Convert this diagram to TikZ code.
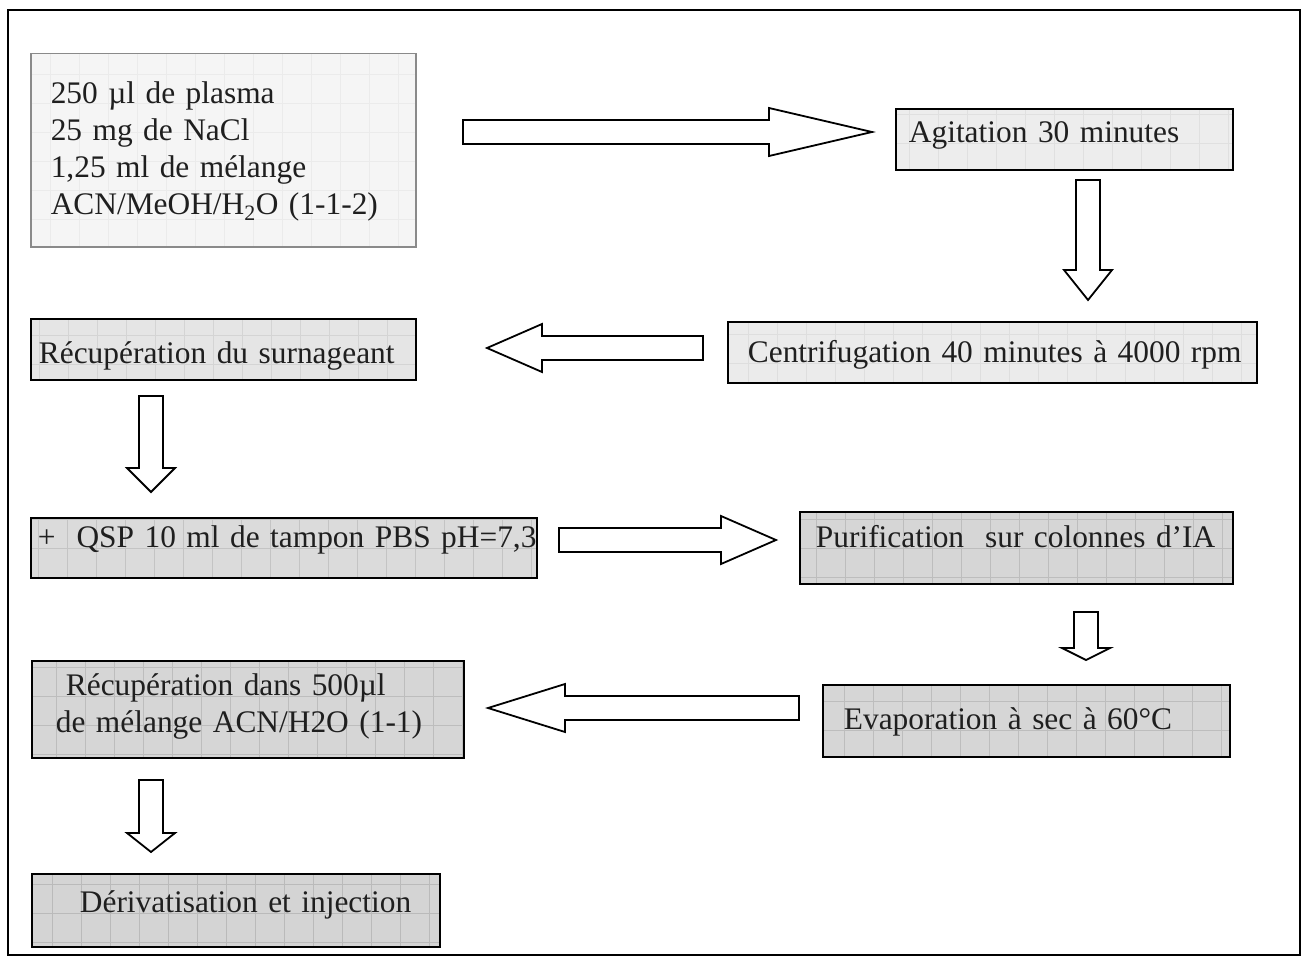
\documentclass[tikz,border=0pt]{standalone}
\usepackage{fontspec}
\setmainfont{Liberation Serif}
\usetikzlibrary{positioning,calc}
\definecolor{EdgeGray}{HTML}{8A8A8A}

% block arrow: tail, head base, tip (all named coordinates)
\newcommand{\hblock}[3]{\draw[blockarr] ($(#1)+(0,-12)$) -- ($(#2)+(0,-12)$) -- ($(#2)+(0,-24)$) -- (#3)
  -- ($(#2)+(0,24)$) -- ($(#2)+(0,12)$) -- ($(#1)+(0,12)$) -- cycle;}
\newcommand{\vblock}[3]{\draw[blockarr] ($(#1)+(-12,0)$) -- ($(#2)+(-12,0)$) -- ($(#2)+(-24,0)$) -- (#3)
  -- ($(#2)+(24,0)$) -- ($(#2)+(12,0)$) -- ($(#1)+(12,0)$) -- cycle;}

\begin{document}
\begin{tikzpicture}[x=1pt, y=-1pt,
  stage/.style    = {draw=black, line width=1.8pt, anchor=north west, align=left,
                     inner ysep=8pt, font=\fontsize{31.4}{37}\selectfont, text=black!88},
  oneline/.style  = {execute at begin node={\leavevmode\hbox\bgroup}, execute at end node={\egroup}},
  texture/.style 2 args = {fill=black!#1, path picture={\draw[black!#2, line width=0.7pt]
                     (path picture bounding box.south west) grid[step=29pt]
                     (path picture bounding box.north east);}},
  blockarr/.style = {draw=black, line width=1.8pt, fill=white, line join=miter}
]
  \useasboundingbox (0,0) rectangle (1305,963);
  \draw[line width=2.2pt] (8,10) rectangle (1300,955);

  % steps
  \node[stage, texture={4}{8}, draw=EdgeGray, line width=1.5pt, inner xsep=20pt,
        text width=345pt, text height=24pt, minimum height=193pt] (prep) at (30,53)
        {250 µl de plasma\\25 mg de NaCl\\1,25 ml de mélange\\ACN/MeOH/H\textsubscript{2}O (1-1-2)};
  \node[stage, oneline, texture={7}{12}, inner xsep=13pt, text width=311pt, text height=26pt, text depth=19pt]
        (agit) at (895,108) {Agitation 30 minutes};
  \node[stage, oneline, texture={8}{13}, inner xsep=20pt, text width=489pt, text height=33pt, text depth=12pt]
        (centri) at (727,321) {Centrifugation 40 minutes à 4000 rpm};
  \node[stage, oneline, texture={10}{17}, inner xsep=8pt, text width=369pt, text height=37pt, text depth=8pt]
        (surn) at (30,318) {Récupération du surnageant};
  \node[stage, oneline, texture={14}{23}, inner xsep=7pt, text width=492pt, text height=22pt, text depth=22pt]
        (qsp) at (30,517) {+\ \ QSP 10 ml de tampon PBS pH=7,3};
  \node[stage, oneline, texture={16}{26}, inner xsep=16pt, text width=401pt, text height=28pt, text depth=28pt]
        (puri) at (799,511) {Purification\ \ sur colonnes d’IA};
  \node[stage, oneline, texture={16}{26}, inner xsep=21pt, text width=365pt, text height=37pt, text depth=19pt]
        (evap) at (822,684) {Evaporation à sec à 60°C};
  \node[stage, texture={16}{26}, inner xsep=24pt, text width=384pt, text height=27pt, text depth=54pt]
        (recup) at (31,660) {\hspace*{10pt}Récupération dans 500µl\\de mélange ACN/H2O (1-1)};
  \node[stage, oneline, texture={17}{27}, inner xsep=20pt, text width=368pt, text height=31pt, text depth=26pt]
        (deriv) at (31,873) {\hspace*{28pt}Dérivatisation et injection};

  % arrows
  \coordinate (a1s) at (463,132);  \coordinate (a1h) at (769,132);  \coordinate (a1t) at (872,132);
  \coordinate (a2s) at (1088,180); \coordinate (a2h) at (1088,270); \coordinate (a2t) at (1088,300);
  \coordinate (a3s) at (703,348);  \coordinate (a3h) at (542,348);  \coordinate (a3t) at (487,348);
  \coordinate (a4s) at (151,396);  \coordinate (a4h) at (151,468);  \coordinate (a4t) at (151,492);
  \coordinate (a5s) at (559,540);  \coordinate (a5h) at (721,540);  \coordinate (a5t) at (776,540);
  \coordinate (a6s) at (1086,612); \coordinate (a6h) at (1086,648); \coordinate (a6t) at (1086,660);
  \coordinate (a7s) at (799,708);  \coordinate (a7h) at (565,708);  \coordinate (a7t) at (488,708);
  \coordinate (a8s) at (151,780);  \coordinate (a8h) at (151,833);  \coordinate (a8t) at (151,852);

  \hblock{a1s}{a1h}{a1t}
  \vblock{a2s}{a2h}{a2t}
  \hblock{a3s}{a3h}{a3t}
  \vblock{a4s}{a4h}{a4t}
  \hblock{a5s}{a5h}{a5t}
  \vblock{a6s}{a6h}{a6t}
  \hblock{a7s}{a7h}{a7t}
  \vblock{a8s}{a8h}{a8t}
\end{tikzpicture}
\end{document}
